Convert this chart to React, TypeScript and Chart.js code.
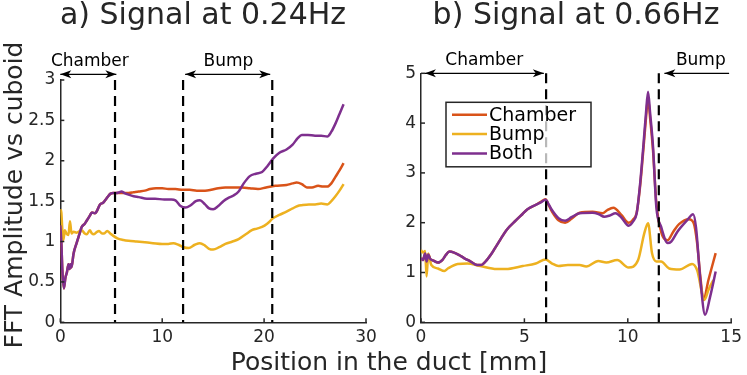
import React, { useEffect, useRef } from 'react';
import { Chart, registerables } from 'chart.js';

Chart.register(...registerables);

const FONT = "'DejaVu Sans', 'Liberation Sans', sans-serif";
const INK = '#262626';
const C_CHAMBER = '#D95319';
const C_BUMP = '#EDB120';
const C_BOTH = '#7E2F8E';

const seriesNames = ['Chamber', 'Bump', 'Both'];
const yAxisTitle = 'FFT Amplitude vs cuboid';
const xAxisTitle = 'Position in the duct [mm]';

// ---------- Panel a) 0.24 Hz ----------
const aTitle = 'a) Signal at 0.24Hz';
const aXTicks = [0, 10, 20, 30];
const aYTicks = [0, 0.5, 1, 1.5, 2, 2.5, 3];

const aBothX = [0, 0.1, 0.2, 0.35, 0.5, 0.65, 0.8, 0.9, 1.0, 1.1, 1.3, 1.6, 1.9, 2.1, 2.4, 2.6, 2.9, 3.1, 3.4, 3.6, 3.9, 4.2, 4.4, 4.7, 4.9, 5.2, 5.5, 5.8, 6.0, 6.3, 6.7, 7.2, 7.7, 8.5, 9.3, 10.2, 10.9, 11.3, 11.8, 12.3, 12.8, 13.3, 13.7, 14.2, 14.6, 15.0, 15.5, 16.0, 16.5, 17.0, 17.5, 18.0, 18.6, 19.2, 19.8, 20.3, 20.9, 21.5, 22.2, 22.8, 23.3, 23.7, 24.3, 25.0, 25.6, 26.2, 26.6, 27.0, 27.4, 27.8];
const aBothY = [1.2, 1.0, 0.65, 0.42, 0.55, 0.62, 0.72, 0.66, 0.72, 0.68, 0.85, 0.98, 1.1, 1.18, 1.22, 1.26, 1.32, 1.36, 1.35, 1.38, 1.46, 1.48, 1.51, 1.56, 1.59, 1.6, 1.6, 1.61, 1.62, 1.6, 1.58, 1.56, 1.55, 1.53, 1.53, 1.52, 1.52, 1.51, 1.44, 1.42, 1.45, 1.5, 1.51, 1.46, 1.41, 1.4, 1.44, 1.5, 1.54, 1.57, 1.62, 1.72, 1.81, 1.84, 1.86, 1.93, 2.03, 2.1, 2.14, 2.2, 2.28, 2.32, 2.32, 2.31, 2.31, 2.3, 2.36, 2.46, 2.58, 2.7];

const aChamberX = [0, 0.1, 0.2, 0.35, 0.5, 0.65, 0.8, 0.9, 1.0, 1.1, 1.3, 1.6, 1.9, 2.1, 2.4, 2.6, 2.9, 3.1, 3.4, 3.6, 3.9, 4.2, 4.4, 4.7, 4.9, 5.2, 5.5, 5.8, 6.2, 6.7, 7.2, 7.7, 8.3, 8.8, 9.4, 10.0, 10.6, 11.3, 12.0, 12.7, 13.4, 14.2, 14.8, 15.5, 16.2, 17.0, 17.8, 18.6, 19.4, 20.2, 21.1, 22.2, 22.8, 23.2, 23.7, 24.2, 24.7, 25.3, 25.8, 26.2, 26.6, 27.0, 27.4, 27.8];
const aChamberY = [1.2, 1.0, 0.65, 0.42, 0.55, 0.62, 0.72, 0.66, 0.72, 0.68, 0.85, 0.98, 1.1, 1.18, 1.22, 1.26, 1.32, 1.36, 1.35, 1.38, 1.46, 1.48, 1.51, 1.56, 1.59, 1.6, 1.6, 1.6, 1.6, 1.6, 1.61, 1.62, 1.63, 1.65, 1.66, 1.66, 1.65, 1.65, 1.64, 1.64, 1.63, 1.63, 1.64, 1.66, 1.67, 1.67, 1.67, 1.66, 1.65, 1.67, 1.69, 1.7, 1.72, 1.73, 1.71, 1.67, 1.67, 1.69, 1.68, 1.68, 1.72, 1.8, 1.88, 1.97];

const aBumpX = [0, 0.1, 0.2, 0.3, 0.45, 0.6, 0.8, 0.95, 1.1, 1.3, 1.6, 1.9, 2.1, 2.4, 2.6, 2.9, 3.1, 3.3, 3.6, 3.8, 4.1, 4.3, 4.6, 4.9, 5.1, 5.6, 6.2, 6.7, 7.5, 8.3, 9.1, 10.0, 10.6, 11.1, 11.6, 12.1, 12.6, 13.2, 13.7, 14.2, 14.6, 15.0, 15.6, 16.2, 16.9, 17.5, 18.2, 18.8, 19.3, 19.8, 20.3, 20.9, 21.5, 22.2, 22.8, 23.3, 23.7, 24.4, 25.0, 25.6, 26.2, 26.6, 27.0, 27.4, 27.8];
const aBumpY = [1.4, 1.36, 1.15, 1.02, 1.14, 1.1, 1.08, 1.25, 1.1, 1.12, 1.11, 1.13, 1.14, 1.1, 1.09, 1.14, 1.1, 1.09, 1.12, 1.13, 1.1, 1.1, 1.13, 1.1, 1.08, 1.04, 1.02, 1.01, 1.0, 0.99, 0.98, 0.97, 0.97, 0.98, 0.96, 0.93, 0.92, 0.96, 0.98, 0.95, 0.91, 0.9, 0.93, 0.97, 1.0, 1.03, 1.09, 1.14, 1.16, 1.18, 1.22, 1.29, 1.33, 1.37, 1.41, 1.44, 1.45, 1.46, 1.46, 1.47, 1.46, 1.5, 1.56, 1.63, 1.71];

const aDividers = [5.37, 12.05, 20.8];
const aArrowY = 3.07;
const aArrowFrom = [0, 12.25];
const aArrowTo = [5.5, 20.6];
const aArrowHeads = ['both', 'both'];
const aArrowLabels = ['Chamber', 'Bump'];
const aArrowLabelX = [2.9, 16.5];

// ---------- Panel b) 0.66 Hz ----------
const bTitle = 'b) Signal at 0.66Hz';
const bXTicks = [0, 5, 10, 15];
const bYTicks = [0, 1, 2, 3, 4, 5];

const bBothX = [0, 0.1, 0.2, 0.27, 0.35, 0.45, 0.6, 0.82, 1.05, 1.2, 1.37, 1.6, 1.85, 2.08, 2.4, 2.71, 2.9, 3.18, 3.4, 3.58, 3.85, 4.13, 4.6, 4.9, 5.15, 5.55, 5.8, 6.02, 6.2, 6.34, 6.65, 6.97, 7.28, 7.67, 8.3, 8.6, 8.86, 9.1, 9.41, 9.7, 10.04, 10.25, 10.43, 10.6, 10.75, 10.88, 10.98, 11.08, 11.22, 11.38, 11.61, 11.93, 12.1, 12.4, 12.87, 13.16, 13.3, 13.51, 13.74, 13.98, 14.25];
const bBothY = [1.29, 1.25, 1.38, 1.22, 1.36, 1.27, 1.24, 1.2, 1.26, 1.35, 1.42, 1.4, 1.35, 1.29, 1.22, 1.15, 1.15, 1.25, 1.37, 1.49, 1.67, 1.85, 2.05, 2.17, 2.27, 2.36, 2.41, 2.46, 2.35, 2.25, 2.09, 2.04, 2.11, 2.19, 2.2, 2.17, 2.12, 2.14, 2.19, 2.1, 1.94, 2.02, 2.19, 2.8, 3.53, 4.2, 4.63, 4.2, 3.53, 2.32, 1.92, 1.59, 1.62, 1.82, 2.05, 2.17, 1.9, 0.85, 0.15, 0.51, 1.02];

const bChamberX = [0, 0.1, 0.2, 0.27, 0.35, 0.45, 0.6, 0.82, 1.05, 1.2, 1.37, 1.6, 1.85, 2.08, 2.4, 2.71, 2.9, 3.18, 3.4, 3.58, 3.85, 4.13, 4.6, 4.9, 5.15, 5.55, 5.8, 6.02, 6.2, 6.34, 6.65, 6.97, 7.28, 7.67, 8.3, 8.78, 9.0, 9.3, 9.7, 10.04, 10.25, 10.43, 10.6, 10.75, 10.88, 10.98, 11.08, 11.22, 11.38, 11.61, 11.93, 12.2, 12.48, 12.95, 13.19, 13.35, 13.51, 13.66, 13.9, 14.25];
const bChamberY = [1.29, 1.25, 1.38, 1.22, 1.36, 1.27, 1.24, 1.2, 1.26, 1.35, 1.42, 1.4, 1.35, 1.29, 1.22, 1.15, 1.15, 1.25, 1.37, 1.49, 1.67, 1.85, 2.05, 2.17, 2.27, 2.36, 2.42, 2.47, 2.33, 2.22, 2.05, 2.0, 2.08, 2.2, 2.22, 2.19, 2.25, 2.3, 2.15, 2.0, 2.06, 2.2, 2.75, 3.45, 4.1, 4.5, 4.1, 3.45, 2.4, 1.82, 1.65, 1.82, 1.97, 2.07, 1.99, 1.6, 0.91, 0.45, 0.85, 1.39];

const bBumpX = [0, 0.1, 0.2, 0.27, 0.35, 0.5, 0.82, 1.13, 1.3, 1.77, 2.24, 2.87, 3.66, 4.1, 4.92, 5.55, 6.02, 6.34, 6.65, 7.1, 7.67, 7.99, 8.57, 8.96, 9.49, 10.04, 10.5, 10.8, 10.98, 11.17, 11.38, 11.61, 12.0, 12.5, 13.11, 13.35, 13.71, 13.9, 14.14];
const bBumpY = [1.45, 1.4, 1.43, 0.92, 1.38, 1.15, 1.08, 1.03, 1.08, 1.17, 1.18, 1.13, 1.07, 1.07, 1.13, 1.18, 1.26, 1.18, 1.13, 1.15, 1.15, 1.12, 1.23, 1.2, 1.25, 1.1, 1.25, 1.79, 1.99, 1.39, 1.22, 1.22, 1.08, 1.06, 1.17, 1.05, 0.45, 0.65, 0.85];

const bDividers = [6.05, 11.5];
const bArrowY = 5.0;
const bArrowFrom = [0.19, 11.77];
const bArrowTo = [5.94, 14.9];
const bArrowHeads = ['both', 'start'];
const bArrowLabels = ['Chamber', 'Bump'];
const bArrowLabelX = [3.06, 13.53];

const pts = (xs: number[], ys: number[]) => xs.map((x, i) => ({ x, y: ys[i] }));

function arrowHead(ctx: CanvasRenderingContext2D, tipX: number, tipY: number, dir: number) {
  const L = 11, W = 4, notch = 3;
  ctx.beginPath();
  ctx.moveTo(tipX, tipY);
  ctx.lineTo(tipX - dir * L, tipY - W);
  ctx.lineTo(tipX - dir * (L - notch), tipY);
  ctx.lineTo(tipX - dir * L, tipY + W);
  ctx.closePath();
  ctx.fill();
}

const decoPlugin = {
  id: 'panelDeco',
  afterDatasetsDraw(chart: any, _args: any, opts: any) {
    const { ctx, chartArea, scales } = chart;
    const x = scales.x;
    ctx.save();
    // dashed dividers
    ctx.strokeStyle = '#000';
    ctx.lineWidth = 2.2;
    ctx.setLineDash([10, 6]);
    opts.dividers.forEach((d: number) => {
      const px = x.getPixelForValue(d);
      ctx.beginPath();
      ctx.moveTo(px, chartArea.top);
      ctx.lineTo(px, chartArea.bottom);
      ctx.stroke();
    });
    ctx.setLineDash([]);
    // legend
    if (opts.legend) {
      const lx = chartArea.left + opts.legend.dx;
      const ly = chartArea.top + opts.legend.dy;
      const w = opts.legend.w, h = opts.legend.h;
      ctx.fillStyle = 'rgba(255,255,255,0.72)';
      ctx.fillRect(lx, ly, w, h);
      ctx.strokeStyle = INK;
      ctx.lineWidth = 1.5;
      ctx.strokeRect(lx, ly, w, h);
      const order = opts.legend.order as number[];
      ctx.font = `19px ${FONT}`;
      ctx.textBaseline = 'middle';
      ctx.textAlign = 'left';
      order.forEach((di: number, row: number) => {
        const ds = chart.data.datasets[di];
        const yy = ly + 12.5 + row * 19.3;
        ctx.strokeStyle = ds.borderColor;
        ctx.lineWidth = 2.5;
        ctx.beginPath();
        ctx.moveTo(lx + 6, yy);
        ctx.lineTo(lx + 41, yy);
        ctx.stroke();
        ctx.fillStyle = '#000';
        ctx.fillText(ds.label, lx + 43, yy + 1);
      });
    }
    ctx.restore();
  },
  afterDraw(chart: any, _args: any, opts: any) {
    const { ctx, chartArea, scales } = chart;
    const x = scales.x, y = scales.y;
    ctx.save();
    // inward ticks
    ctx.strokeStyle = INK;
    ctx.lineWidth = 1.5;
    x.ticks.forEach((t: any) => {
      const px = x.getPixelForValue(t.value);
      ctx.beginPath();
      ctx.moveTo(px, chartArea.bottom);
      ctx.lineTo(px, chartArea.bottom - 4);
      ctx.stroke();
    });
    y.ticks.forEach((t: any) => {
      const py = y.getPixelForValue(t.value);
      ctx.beginPath();
      ctx.moveTo(chartArea.left, py);
      ctx.lineTo(chartArea.left + 4, py);
      ctx.stroke();
    });
    // title
    ctx.fillStyle = INK;
    ctx.font = `30px ${FONT}`;
    ctx.textAlign = 'center';
    ctx.textBaseline = 'alphabetic';
    ctx.fillText(opts.title, opts.titleX, 24);
    // arrows
    const ay = y.getPixelForValue(opts.arrowY);
    ctx.strokeStyle = '#000';
    ctx.fillStyle = '#000';
    ctx.lineWidth = 1.3;
    opts.arrowFrom.forEach((f: number, i: number) => {
      const x1 = x.getPixelForValue(f);
      const x2 = x.getPixelForValue(opts.arrowTo[i]);
      ctx.beginPath();
      ctx.moveTo(x1, ay);
      ctx.lineTo(x2, ay);
      ctx.stroke();
      const heads = opts.arrowHeads[i];
      if (heads === 'both' || heads === 'start') arrowHead(ctx, x1, ay, -1);
      if (heads === 'both' || heads === 'end') arrowHead(ctx, x2, ay, 1);
      ctx.font = `17px ${FONT}`;
      ctx.textAlign = 'center';
      ctx.textBaseline = 'alphabetic';
      ctx.fillText(opts.arrowLabels[i], x.getPixelForValue(opts.arrowLabelX[i]), ay - 8);
    });
    // shared axis titles
    if (opts.axisTitles) {
      ctx.fillStyle = INK;
      ctx.font = `25px ${FONT}`;
      ctx.textAlign = 'center';
      ctx.textBaseline = 'alphabetic';
      ctx.fillText(xAxisTitle, 389, 370);
      ctx.save();
      ctx.translate(21.5, 195);
      ctx.rotate(-Math.PI / 2);
      ctx.fillText(yAxisTitle, 0, 0);
      ctx.restore();
    }
    ctx.restore();
  },
};

function makeConfig(p: any) {
  const ds = [
    { label: seriesNames[0], data: p.chamber, borderColor: C_CHAMBER, order: 2 },
    { label: seriesNames[1], data: p.bump, borderColor: C_BUMP, order: 1 },
    { label: seriesNames[2], data: p.both, borderColor: C_BOTH, order: 0 },
  ].map((d) => ({
    ...d,
    backgroundColor: d.borderColor,
    borderWidth: 2.5,
    pointRadius: 0,
    fill: false,
    cubicInterpolationMode: 'monotone' as const,
  }));
  return {
    type: 'line' as const,
    data: { datasets: ds },
    options: {
      animation: false as const,
      responsive: false,
      devicePixelRatio: 1,
      layout: { padding: p.padding },
      scales: {
        x: {
          type: 'linear' as const,
          min: p.xTicks[0],
          max: p.xTicks[p.xTicks.length - 1],
          afterBuildTicks: (s: any) => { s.ticks = p.xTicks.map((v: number) => ({ value: v })); },
          afterFit: (s: any) => { s.height = p.xHeight; },
          grid: { display: false, drawTicks: false },
          border: { display: true, color: INK, width: 1.5 },
          ticks: {
            color: INK,
            font: { family: FONT, size: 17 },
            padding: 5,
            maxRotation: 0,
            autoSkip: false,
            callback: (v: any) => String(v),
          },
        },
        y: {
          type: 'linear' as const,
          min: p.yTicks[0],
          max: p.yTicks[p.yTicks.length - 1],
          afterBuildTicks: (s: any) => { s.ticks = p.yTicks.map((v: number) => ({ value: v })); },
          afterFit: (s: any) => { s.width = p.yWidth; },
          grid: { display: false, drawTicks: false },
          border: { display: true, color: INK, width: 1.5 },
          ticks: {
            color: INK,
            font: { family: FONT, size: 17 },
            padding: 5,
            autoSkip: false,
            callback: (v: any) => String(v),
          },
        },
      },
      plugins: {
        legend: { display: false },
        tooltip: { enabled: false },
        title: { display: false },
        panelDeco: p.deco,
      },
    },
    plugins: [decoPlugin],
  };
}

const panelA = {
  chamber: pts(aChamberX, aChamberY),
  bump: pts(aBumpX, aBumpY),
  both: pts(aBothX, aBothY),
  xTicks: aXTicks,
  yTicks: aYTicks,
  padding: { left: 0, top: 80, right: 381, bottom: 22 },
  yWidth: 60.3,
  xHeight: 30.7,
  deco: {
    dividers: aDividers,
    title: aTitle,
    titleX: 203,
    arrowY: aArrowY,
    arrowFrom: aArrowFrom,
    arrowTo: aArrowTo,
    arrowHeads: aArrowHeads,
    arrowLabels: aArrowLabels,
    arrowLabelX: aArrowLabelX,
    axisTitles: true,
    legend: null,
  },
};

const panelB = {
  chamber: pts(bChamberX, bChamberY),
  bump: pts(bBumpX, bBumpY),
  both: pts(bBothX, bBothY),
  xTicks: bXTicks,
  yTicks: bYTicks,
  padding: { left: 381, top: 73.3, right: 9, bottom: 22 },
  yWidth: 40,
  xHeight: 30.7,
  deco: {
    dividers: bDividers,
    title: bTitle,
    titleX: 576,
    arrowY: bArrowY,
    arrowFrom: bArrowFrom,
    arrowTo: bArrowTo,
    arrowHeads: bArrowHeads,
    arrowLabels: bArrowLabels,
    arrowLabelX: bArrowLabelX,
    axisTitles: false,
    legend: { dx: 25, dy: 29, w: 145, h: 64.5, order: [0, 1, 2] },
  },
};

function Panel({ panel }: { panel: any }) {
  const ref = useRef<HTMLCanvasElement | null>(null);
  useEffect(() => {
    if (!ref.current) return;
    const chart = new Chart(ref.current, makeConfig(panel) as any);
    return () => chart.destroy();
  }, [panel]);
  return (
    <canvas
      ref={ref}
      width={747}
      height={375}
      style={{ position: 'absolute', left: 0, top: 0, width: 747, height: 375 }}
    />
  );
}

export default function App() {
  return (
    <div style={{ position: 'fixed', left: 0, top: 0, width: 747, height: 375, background: '#fff' }}>
      <Panel panel={panelA} />
      <Panel panel={panelB} />
    </div>
  );
}
